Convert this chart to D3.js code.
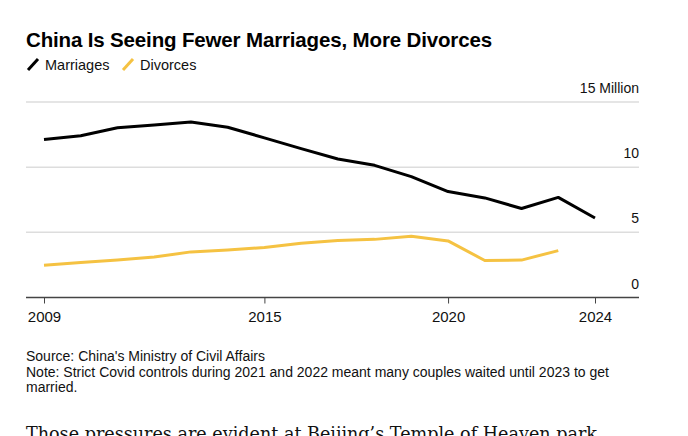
<!DOCTYPE html>
<html>
<head>
<meta charset="utf-8">
<script src="https://cdn.jsdelivr.net/npm/d3@7"></script>
<style>
  body { margin: 0; background: #fff; }
  svg { display: block; }
</style>
</head>
<body>
<div id="container"></div>
<script>
/* CONSTANTS AND GLOBALS */
const width = 688;
const height = 436;
const margin = { top: 102, right: 49, bottom: 139, left: 26 };

/* DATA */
const years = [2009, 2010, 2011, 2012, 2013, 2014, 2015, 2016, 2017, 2018, 2019, 2020, 2021, 2022, 2023, 2024];
const marriages = [12.12, 12.41, 13.02, 13.24, 13.47, 13.06, 12.25, 11.42, 10.63, 10.14, 9.27, 8.13, 7.64, 6.83, 7.68, 6.1];
const divorces = [2.47, 2.68, 2.87, 3.1, 3.5, 3.64, 3.84, 4.16, 4.37, 4.46, 4.7, 4.34, 2.84, 2.87, 3.6, null];
const yTicks = [0, 5, 10, 15];
const xTicks = [2009, 2015, 2020, 2024];

const seriesNames = ["Marriages", "Divorces"];
const colors = ["#000000", "#f5c242"];

const svg = d3.select("#container")
  .append("svg")
  .attr("width", width)
  .attr("height", height);

/* SCALES */
const xScale = d3.scaleLinear()
  .domain([2009, 2024])
  .range([44, 595]);

const yScale = d3.scaleLinear()
  .domain([0, 15])
  .range([height - margin.bottom + 0.5, margin.top]);

const font = "'Liberation Sans', Arial, sans-serif";

/* TITLE */
svg.append("text")
  .attr("x", 26)
  .attr("y", 47)
  .style("font-family", font)
  .style("font-weight", "bold")
  .style("font-size", "20.5px")
  .style("letter-spacing", "-0.15px")
  .attr("fill", "#000")
  .text("China Is Seeing Fewer Marriages, More Divorces");

/* LEGEND */
const legend = svg.append("g");
const legendX = [26, 121];
seriesNames.forEach((name, i) => {
  const g = legend.append("g").attr("transform", `translate(${legendX[i]},0)`);
  g.append("line")
    .attr("x1", 2).attr("y1", 70)
    .attr("x2", 12).attr("y2", 59)
    .attr("stroke", colors[i])
    .attr("stroke-width", 3);
  g.append("text")
    .attr("x", 19)
    .attr("y", 70)
    .style("font-family", font)
    .style("font-size", "14.5px")
    .attr("fill", "#111")
    .text(name);
});

/* GRIDLINES */
svg.append("g")
  .selectAll("line")
  .data(yTicks.filter(d => d > 0))
  .join("line")
  .attr("x1", margin.left)
  .attr("x2", width - margin.right)
  .attr("y1", d => yScale(d))
  .attr("y2", d => yScale(d))
  .attr("stroke", "#dddddd")
  .attr("stroke-width", 1.5);

/* Y LABELS */
svg.append("g")
  .selectAll("text")
  .data(yTicks)
  .join("text")
  .attr("x", width - margin.right)
  .attr("y", d => yScale(d) - 9)
  .attr("text-anchor", "end")
  .style("font-family", font)
  .style("font-size", "14px")
  .attr("fill", "#111")
  .text(d => d === 15 ? "15 Million" : d);

/* X AXIS */
const xAxis = d3.axisBottom(xScale)
  .tickValues(xTicks)
  .tickFormat(d3.format("d"))
  .tickSize(6)
  .tickPadding(8);

const xg = svg.append("g")
  .attr("transform", `translate(0, ${yScale(0)})`)
  .call(xAxis);
xg.select(".domain").remove();
xg.insert("line", ":first-child")
  .attr("x1", margin.left)
  .attr("x2", width - margin.right)
  .attr("stroke", "#444")
  .attr("stroke-width", 1.5);
xg.selectAll(".tick line").attr("stroke", "#444");
xg.selectAll(".tick text")
  .style("font-family", font)
  .style("font-size", "15px")
  .attr("fill", "#111");

/* LINES */
const line = d3.line()
  .defined(d => d[1] != null)
  .x(d => xScale(d[0]))
  .y(d => yScale(d[1]));

[marriages, divorces].forEach((vals, i) => {
  svg.append("path")
    .datum(years.map((y, j) => [y, vals[j]]))
    .attr("fill", "none")
    .attr("stroke", colors[i])
    .attr("stroke-width", 3)
    .attr("stroke-linejoin", "round")
    .attr("d", line);
});

/* NOTES */
const notes = [
  "Source: China's Ministry of Civil Affairs",
  "Note: Strict Covid controls during 2021 and 2022 meant many couples waited until 2023 to get",
  "married."
];
svg.append("g")
  .selectAll("text")
  .data(notes)
  .join("text")
  .attr("x", 26)
  .attr("y", (d, i) => 361 + i * 15.5)
  .style("font-family", font)
  .style("font-size", "14px")
  .attr("fill", "#111")
  .text(d => d);

/* FOLLOWING ARTICLE TEXT */
svg.append("text")
  .attr("x", 26)
  .attr("y", 440)
  .style("font-family", "'DejaVu Serif', 'Liberation Serif', serif")
  .style("font-size", "18px")
  .attr("textLength", 571)
  .attr("lengthAdjust", "spacingAndGlyphs")
  .attr("fill", "#111")
  .text("Those pressures are evident at Beijing\u2019s Temple of Heaven park");
</script>
</body>
</html>
